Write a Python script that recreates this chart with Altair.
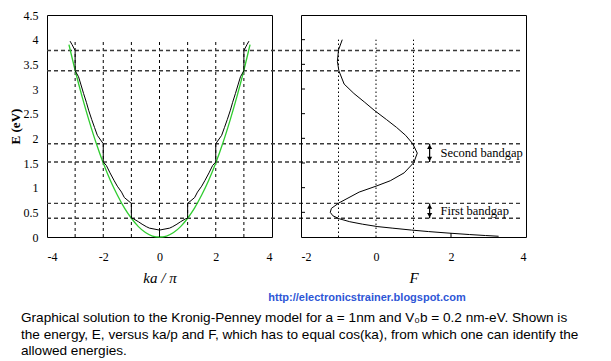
import altair as alt
import pandas as pd

# ---------------- data ----------------
# Kronig-Penney band structure: E (eV) versus ka/pi (black)
kp_x = [-3.18, -3.11, -3.00, -3.00, -2.88, -2.80, -2.70, -2.60, -2.52, -2.41, -2.31, -2.21,
        -2.00, -2.00, -1.89, -1.76, -1.61, -1.50, -1.35, -1.25, -1.00, -1.00, -0.93, -0.75,
        -0.62, -0.47, -0.36, 0.00, 0.00, 0.00, 0.36, 0.47, 0.62, 0.75, 0.93, 1.00, 1.00,
        1.25, 1.35, 1.50, 1.61, 1.76, 1.89, 2.00, 2.00, 2.21, 2.31, 2.41, 2.52, 2.60, 2.70,
        2.80, 2.88, 3.00, 3.00, 3.11, 3.18]
kp_E = [3.97, 3.90, 3.78, 3.37, 3.25, 3.10, 2.91, 2.73, 2.57, 2.38, 2.22, 2.06,
        1.89, 1.52, 1.45, 1.30, 1.14, 1.03, 0.91, 0.80, 0.68, 0.38, 0.37, 0.31,
        0.26, 0.21, 0.18, 0.14, 0.00, 0.14, 0.18, 0.21, 0.26, 0.31, 0.37, 0.38, 0.68,
        0.80, 0.91, 1.03, 1.14, 1.30, 1.45, 1.52, 1.89, 2.06, 2.22, 2.38, 2.57, 2.73, 2.91,
        3.10, 3.25, 3.37, 3.78, 3.90, 3.97]

# free-electron parabola (green)
free_x = [-3.22, -3.00, -2.75, -2.50, -2.25, -2.00, -1.75, -1.50, -1.25, -1.00, -0.75, -0.50,
          -0.25, 0.00, 0.25, 0.50, 0.75, 1.00, 1.25, 1.50, 1.75, 2.00, 2.25, 2.50, 2.75,
          3.00, 3.22]
free_E = [3.90, 3.38, 2.84, 2.35, 1.90, 1.50, 1.15, 0.85, 0.59, 0.38, 0.21, 0.09,
          0.02, 0.00, 0.02, 0.09, 0.21, 0.38, 0.59, 0.85, 1.15, 1.50, 1.90, 2.35, 2.84,
          3.38, 3.90]

# F(E) curve (right panel)
f_F = [3.27, 2.92, 2.49, 1.92, 1.40, 0.95, 0.43, 0.05, -0.36, -0.70, -0.98, -1.15, -1.22,
       -1.19, -0.99, -0.72, -0.45, 0.00, 0.38, 0.75, 1.01, 1.10, 0.98, 0.79, 0.55, 0.28,
       -0.05, -0.30, -0.59, -0.85, -0.99, -1.03, -1.00, -0.90]
f_E = [0.015, 0.03, 0.05, 0.08, 0.11, 0.14, 0.18, 0.21, 0.26, 0.31, 0.37, 0.43, 0.50,
       0.58, 0.69, 0.80, 0.91, 1.03, 1.14, 1.30, 1.51, 1.70, 1.89, 2.06, 2.22, 2.38,
       2.57, 2.73, 2.91, 3.10, 3.37, 3.56, 3.79, 4.00]

band_edges = [0.38, 0.68, 1.52, 1.89, 3.37, 3.78]
grid_ka = [-3, -2, -1, 0, 1, 2, 3]
grid_F = [-1, 0, 1]
grid_top = 4.0
gap_names = ["First bandgap", "Second bandgap"]
gap_lo = [0.38, 1.52]
gap_hi = [0.68, 1.89]
arrow_F = 1.43
label_F = 1.72
E_ticks = [0.0, 0.5, 1.0, 1.5, 2.0, 2.5, 3.0, 3.5, 4.0, 4.5]
E_inner_ticks = [0.5, 1.0, 1.5, 2.0, 2.5, 3.0, 3.5, 4.0]
ka_ticks = [-4, -2, 0, 2, 4]
F_ticks = [-2, 0, 2, 4]
F_inner_ticks = [2]

url = "http://electronicstrainer.blogspot.com"
caption = ("Graphical solution to the Kronig-Penney model for a = 1nm and V\u2080b = 0.2 nm-eV. Shown is\n"
           "the energy, E, versus ka/p and F, which has to equal cos(ka), from which one can identify the\n"
           "allowed energies.")

# ---------------- layout ----------------
W, H, GAP = 225, 222, 29
SERIF = "Liberation Serif"
SANS = "Liberation Sans"
PLAIN_LABEL = "'' + datum.value"

ydom = alt.Scale(domain=[0, 4.5], nice=False, zero=False)
xka = alt.Scale(domain=[-4, 4], nice=False)
xF = alt.Scale(domain=[-2, 4], nice=False)

kp_df = pd.DataFrame({"x": kp_x, "E": kp_E, "i": range(len(kp_x))})
free_df = pd.DataFrame({"x": free_x, "E": free_E})
f_df = pd.DataFrame({"F": f_F, "E": f_E, "i": range(len(f_F))})
edges_df = pd.DataFrame({"E": band_edges})
gka_df = pd.DataFrame({"x": grid_ka, "lo": [0.0] * len(grid_ka), "hi": [grid_top] * len(grid_ka)})
gF_df = pd.DataFrame({"F": grid_F, "lo": [0.0] * len(grid_F), "hi": [grid_top] * len(grid_F)})
gap_df = pd.DataFrame({"name": gap_names, "lo": gap_lo, "hi": gap_hi,
                       "ax": [arrow_F] * 2, "lx": [label_F] * 2})
eticks_df = pd.DataFrame({"E": E_inner_ticks})
fticks_df = pd.DataFrame({"F": F_inner_ticks})
text_df = pd.DataFrame({"url": [url], "cap": [caption]})

x_axis_common = dict(domain=False, ticks=False, tickSize=0, grid=False, labelPadding=14,
                     labelOverlap=False, labelExpr=PLAIN_LABEL,
                     labelFont=SERIF, labelFontSize=12, labelColor="black",
                     titleFont=SERIF, titleFontSize=15, titleFontStyle="italic",
                     titleFontWeight="normal", titleColor="black", titlePadding=8)

KA_AX = alt.Axis(values=ka_ticks, title="ka / π", **x_axis_common)
F_AX = alt.Axis(values=F_ticks, title="F", **x_axis_common)
E_AX = alt.Axis(values=E_ticks, labelExpr=PLAIN_LABEL, title="E (eV)", labelOverlap=False,
                domain=False, ticks=False, tickSize=0, grid=False,
                labelPadding=9, labelFont=SERIF, labelFontSize=12, labelColor="black",
                titleFont=SERIF, titleFontSize=13, titleFontWeight="bold", titleColor="black",
                titlePadding=1)
E_AX_R = alt.Axis(labels=False, ticks=False, tickSize=0, domain=False, grid=False, title=None)

# ---- left panel ----
vgrid = alt.Chart(gka_df).mark_rule(color="black", strokeDash=[3, 3], strokeWidth=1).encode(
    x=alt.X("x:Q", scale=xka, axis=KA_AX),
    y=alt.Y("lo:Q", scale=ydom, axis=E_AX),
    y2="hi:Q",
)
hlines = alt.Chart(edges_df).mark_rule(color="#3a3a3a", strokeDash=[4, 3], strokeWidth=1.3, clip=False).encode(
    y=alt.Y("E:Q", scale=ydom, axis=E_AX),
    x=alt.value(0),
    x2=alt.value(W + GAP + W - 3),
)
green = alt.Chart(free_df).mark_line(color="#2fcc2f", strokeWidth=1.3, interpolate="monotone").encode(
    x=alt.X("x:Q", scale=xka, axis=KA_AX), y=alt.Y("E:Q", scale=ydom, axis=E_AX)
)
black = alt.Chart(kp_df).mark_line(color="black", strokeWidth=1).encode(
    x=alt.X("x:Q", scale=xka, axis=KA_AX), y=alt.Y("E:Q", scale=ydom, axis=E_AX), order="i:Q"
)
url_txt = alt.Chart(text_df).mark_text(font=SANS, fontSize=11, fontWeight="bold", color="#2e56d6",
                                       align="center", baseline="middle", clip=False).encode(
    text="url:N", x=alt.value(320), y=alt.value(283)
)
cap_txt = alt.Chart(text_df).mark_text(font=SANS, fontSize=13.6, color="black", align="left",
                                       baseline="top", lineBreak="\n", lineHeight=16.5, clip=False).encode(
    text="cap:N", x=alt.value(-26), y=alt.value(296)
)
left = alt.layer(vgrid, hlines, green, black, url_txt, cap_txt).properties(width=W, height=H)

# ---- right panel ----
rgrid = alt.Chart(gF_df).mark_rule(color="black", strokeDash=[1.5, 2.5], strokeWidth=1).encode(
    x=alt.X("F:Q", scale=xF, axis=F_AX),
    y=alt.Y("lo:Q", scale=ydom, axis=E_AX_R),
    y2="hi:Q",
)
fcurve = alt.Chart(f_df).mark_line(color="black", strokeWidth=1).encode(
    x=alt.X("F:Q", scale=xF, axis=F_AX), y=alt.Y("E:Q", scale=ydom, axis=E_AX_R), order="i:Q"
)
yticks_in = alt.Chart(eticks_df).mark_rule(color="black", strokeWidth=1).encode(
    y=alt.Y("E:Q", scale=ydom, axis=E_AX_R), x=alt.value(0), x2=alt.value(4)
)
xticks_in = alt.Chart(fticks_df).mark_rule(color="black", strokeWidth=1).encode(
    x=alt.X("F:Q", scale=xF, axis=F_AX), y=alt.value(H), y2=alt.value(H - 4)
)
arrow_base = alt.Chart(gap_df)
arrow_line = arrow_base.mark_rule(color="black", strokeWidth=1.2).encode(
    x=alt.X("ax:Q", scale=xF, axis=F_AX), y=alt.Y("lo:Q", scale=ydom, axis=E_AX_R), y2="hi:Q"
)
arrow_up = arrow_base.mark_point(shape="triangle-up", filled=True, color="black", size=26,
                                 opacity=1, yOffset=3).encode(
    x=alt.X("ax:Q", scale=xF, axis=F_AX), y=alt.Y("hi:Q", scale=ydom, axis=E_AX_R)
)
arrow_dn = arrow_base.mark_point(shape="triangle-down", filled=True, color="black", size=26,
                                 opacity=1, yOffset=-3).encode(
    x=alt.X("ax:Q", scale=xF, axis=F_AX), y=alt.Y("lo:Q", scale=ydom, axis=E_AX_R)
)
gap_txt = arrow_base.transform_calculate(mid="(datum.lo + datum.hi) / 2").mark_text(
    font=SERIF, fontSize=12.5, color="black", align="left", baseline="middle").encode(
    x=alt.X("lx:Q", scale=xF, axis=F_AX), y=alt.Y("mid:Q", scale=ydom, axis=E_AX_R), text="name:N"
)
right = alt.layer(rgrid, fcurve, yticks_in, xticks_in, arrow_line, arrow_up, arrow_dn, gap_txt).properties(
    width=W, height=H)

chart = alt.hconcat(left, right, spacing=GAP, bounds="flush").properties(
    padding={"left": 0, "top": 0, "right": 0, "bottom": 0}, background="white"
).configure_view(stroke="black", strokeWidth=1)

chart.save("out.html", embed_options={"renderer": "svg", "actions": False})
